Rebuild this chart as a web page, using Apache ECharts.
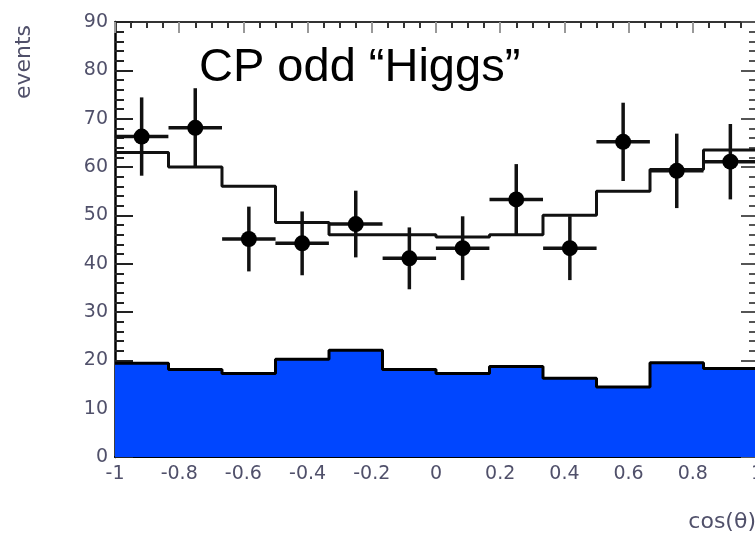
<!DOCTYPE html>
<html>
<head>
<meta charset="utf-8">
<script src="https://cdn.jsdelivr.net/npm/echarts@6/dist/echarts.min.js"></script>
<style>
html,body{margin:0;padding:0;background:#fff;}
#chart{width:755px;height:534px;}
</style>
</head>
<body>
<div id="chart"></div>
<script>
// ---- data ----
const binEdges = [-1, -0.8333, -0.6667, -0.5, -0.3333, -0.1667, 0, 0.1667, 0.3333, 0.5, 0.6667, 0.8333, 1];
const backgroundCounts = [19.4, 18.1, 17.3, 20.2, 22.1, 18.1, 17.3, 18.7, 16.3, 14.5, 19.5, 18.3];
const expectedTotal = [63, 60, 56, 48.5, 46, 46, 45.5, 46, 50, 55, 59.5, 63.5];
const dataX = [-0.917, -0.75, -0.583, -0.417, -0.25, -0.083, 0.083, 0.25, 0.417, 0.583, 0.75, 0.917];
const dataCounts = [66.3, 68.1, 45.1, 44.2, 48.2, 41.1, 43.2, 53.3, 43.2, 65.2, 59.2, 61.1];
const dataErrors = [8.1, 8.2, 6.7, 6.6, 6.9, 6.4, 6.6, 7.3, 6.6, 8.1, 7.7, 7.8];
const binHalfWidth = 0.0833;
const titleText = 'CP odd \u201CHiggs\u201D';
const yTitle = 'events';
const xTitle = 'cos(\u03B8)';

function stepData(vals) {
  return binEdges.map((e, i) => [e, vals[Math.min(i, vals.length - 1)]]);
}

const labelColor = '#50506a';
const labelFont = 'DejaVu Sans';

const chart = echarts.init(document.getElementById('chart'), null, {renderer: 'canvas'});
chart.setOption({
  animation: false,
  backgroundColor: '#fff',
  grid: {left: 115, top: 22, width: 642, bottom: 77, containLabel: false, outerBoundsMode: 'none'},
  xAxis: [
    {
      type: 'value', min: -1, max: 1, interval: 0.2, position: 'bottom',
      axisLine: {show: true, onZero: false, lineStyle: {color: '#000', width: 2}},
      axisTick: {show: false},
      splitLine: {show: false},
      axisLabel: {fontFamily: labelFont, fontSize: 19, color: labelColor, margin: 8}
    },
    {
      type: 'value', min: -1, max: 1, interval: 0.2, position: 'top',
      axisLine: {show: true, onZero: false, lineStyle: {color: '#333', width: 2}},
      axisTick: {show: true, inside: true, length: 11, lineStyle: {color: '#999', width: 2}},
      minorTick: {show: true, splitNumber: 4, length: 6, lineStyle: {color: '#333', width: 2}},
      splitLine: {show: false},
      axisLabel: {show: false}
    }
  ],
  yAxis: [
    {
      type: 'value', min: 0, max: 90, interval: 10, position: 'left',
      axisLine: {show: true, onZero: false, lineStyle: {color: '#000', width: 2.5}},
      axisTick: {show: true, inside: true, length: 18, lineStyle: {color: '#222', width: 2}},
      minorTick: {show: true, splitNumber: 5, length: 9, lineStyle: {color: '#222', width: 2}},
      splitLine: {show: false},
      axisLabel: {fontFamily: labelFont, fontSize: 19, color: labelColor, margin: 7}
    },
    {
      type: 'value', min: 0, max: 90, interval: 10, position: 'right',
      axisLine: {show: true, onZero: false, lineStyle: {color: '#000', width: 2.5}},
      axisTick: {show: true, inside: true, length: 16, lineStyle: {color: '#555', width: 2}},
      minorTick: {show: true, splitNumber: 5, length: 8, lineStyle: {color: '#555', width: 2}},
      splitLine: {show: false},
      axisLabel: {show: false}
    }
  ],
  series: [
    {
      type: 'line', name: 'background', step: 'end', showSymbol: false, symbol: 'none',
      data: stepData(backgroundCounts),
      lineStyle: {color: '#000', width: 3},
      areaStyle: {color: '#0046ff', opacity: 1},
      z: 2
    },
    {
      type: 'line', name: 'expected', step: 'end', showSymbol: false, symbol: 'none',
      data: stepData(expectedTotal),
      lineStyle: {color: '#111', width: 3},
      z: 3
    },
    {
      type: 'custom', name: 'data',
      data: dataX.map((x, i) => [x, dataCounts[i], dataErrors[i], binHalfWidth]),
      renderItem: function (params, api) {
        const x = api.value(0), y = api.value(1), e = api.value(2), hw = api.value(3);
        const c = api.coord([x, y]);
        const t = api.coord([x, y + e]);
        const b = api.coord([x, y - e]);
        const l = api.coord([x - hw, y]);
        const r = api.coord([x + hw, y]);
        return {
          type: 'group',
          children: [
            {type: 'line', shape: {x1: t[0], y1: t[1], x2: b[0], y2: b[1]}, style: {stroke: '#111', lineWidth: 3.5}},
            {type: 'line', shape: {x1: l[0], y1: l[1], x2: r[0], y2: r[1]}, style: {stroke: '#111', lineWidth: 3.5}},
            {type: 'circle', shape: {cx: c[0], cy: c[1], r: 8}, style: {fill: '#000'}}
          ]
        };
      },
      z: 5
    }
  ],
  graphic: [
    {type: 'text', left: 199, top: 45, z: 10,
     style: {text: titleText, fontFamily: 'Liberation Sans, Arial', fontSize: 47, fill: '#000'}},
    {type: 'text', x: 24, y: 62, rotation: Math.PI / 2, z: 10,
     style: {text: yTitle, fontFamily: labelFont, fontSize: 22, fill: labelColor, align: 'center', verticalAlign: 'middle'}},
    {type: 'text', x: 756, y: 522, z: 10,
     style: {text: xTitle, fontFamily: labelFont, fontSize: 22, fill: labelColor, align: 'right', verticalAlign: 'middle'}}
  ]
});
</script>
</body>
</html>
